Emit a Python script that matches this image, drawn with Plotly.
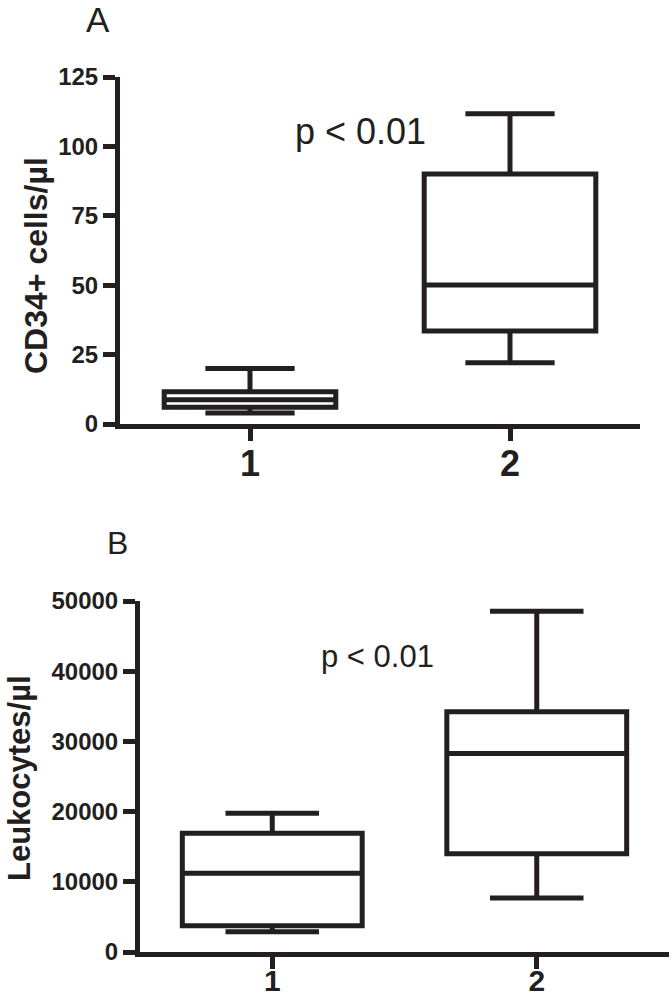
import plotly.graph_objects as go

# ---- data ----
groups = [1, 2]
group_labels = ["1", "2"]

cd34_lower = [4.0, 22.1]
cd34_q1 = [6.0, 33.5]
cd34_median = [8.7, 50.1]
cd34_q3 = [11.6, 90.1]
cd34_upper = [20.0, 111.8]
cd34_ticks = [0, 25, 50, 75, 100, 125]

leuko_lower = [2890, 7680]
leuko_q1 = [3745, 13980]
leuko_median = [11230, 28290]
leuko_q3 = [16920, 34220]
leuko_upper = [19760, 48530]
leuko_ticks = [0, 10000, 20000, 30000, 40000, 50000]

INK = "#231f20"
W, H = 672, 1001
BOLD_FONT = "Liberation Sans, Arial, sans-serif"

def px_x(p):
    return p / W

def px_y(p):
    return 1 - p / H

fig = go.Figure()

fig.add_trace(go.Box(
    x=groups, q1=cd34_q1, median=cd34_median, q3=cd34_q3,
    lowerfence=cd34_lower, upperfence=cd34_upper,
    width=0.66, whiskerwidth=0.52,
    line=dict(color=INK, width=5), fillcolor="white",
    xaxis="x", yaxis="y", showlegend=False, hoverinfo="skip",
))
fig.add_trace(go.Box(
    x=groups, q1=leuko_q1, median=leuko_median, q3=leuko_q3,
    lowerfence=leuko_lower, upperfence=leuko_upper,
    width=0.68, whiskerwidth=0.52,
    line=dict(color=INK, width=5), fillcolor="white",
    xaxis="x2", yaxis="y2", showlegend=False, hoverinfo="skip",
))

xcommon = dict(
    range=[0.5, 2.5], tickmode="array", tickvals=groups, ticktext=group_labels,
    showline=True, linewidth=5, linecolor=INK, ticks="outside", ticklen=12,
    tickwidth=5, tickcolor=INK, showgrid=False, zeroline=False, automargin=False,
    tickfont=dict(family=BOLD_FONT, size=36, color=INK, weight="bold"),
    ticklabelstandoff=-8, fixedrange=True,
)
ycommon = dict(
    showline=True, linewidth=5, linecolor=INK, ticks="outside", ticklen=12,
    tickwidth=5, tickcolor=INK, showgrid=False, zeroline=False, automargin=False,
    tickfont=dict(family=BOLD_FONT, size=24, color=INK, weight="bold"),
    ticklabelstandoff=0, fixedrange=True, tickmode="array",
)

fig.update_layout(
    width=W, height=H, autosize=False,
    margin=dict(l=0, r=0, t=0, b=0),
    paper_bgcolor="white", plot_bgcolor="white",
    template="none",
    xaxis=dict(domain=[px_x(120), px_x(640)], anchor="y", **xcommon),
    yaxis=dict(domain=[px_y(424), px_y(77)], anchor="x", range=[0, 125],
               tickvals=cd34_ticks, ticktext=[str(v) for v in cd34_ticks], **ycommon),
    xaxis2=dict(domain=[px_x(140), px_x(669)], anchor="y2", **xcommon),
    yaxis2=dict(domain=[px_y(952), px_y(601)], anchor="x2", range=[0, 50000],
                tickvals=leuko_ticks, ticktext=[str(v) for v in leuko_ticks], **ycommon),
)
fig.update_layout(xaxis2_ticklabelstandoff=-14, xaxis2_tickfont_size=30)

annots = [
    dict(text="A", x=px_x(98), y=px_y(20), size=35, weight="normal", angle=0),
    dict(text="B", x=px_x(117), y=px_y(543), size=32, weight="normal", angle=0),
    dict(text="p < 0.01", x=px_x(360), y=px_y(131), size=36, weight="normal", angle=0),
    dict(text="p < 0.01", x=px_x(377), y=px_y(656), size=31, weight="normal", angle=0),
    dict(text="CD34+ cells/µl", x=px_x(36), y=px_y(266), size=32, weight="bold", angle=-90),
    dict(text="Leukocytes/µl", x=px_x(19), y=px_y(778), size=31, weight="bold", angle=-90),
]
for a in annots:
    fig.add_annotation(
        text=a["text"], x=a["x"], y=a["y"], xref="paper", yref="paper",
        xanchor="center", yanchor="middle", showarrow=False, textangle=a["angle"],
        font=dict(family=BOLD_FONT, size=a["size"], color=INK, weight=a["weight"]),
    )

fig.write_html(
    "out.html",
    config={"displayModeBar": False, "staticPlot": True},
    post_script="document.body.style.margin='0px';document.body.style.padding='0px';",
)
